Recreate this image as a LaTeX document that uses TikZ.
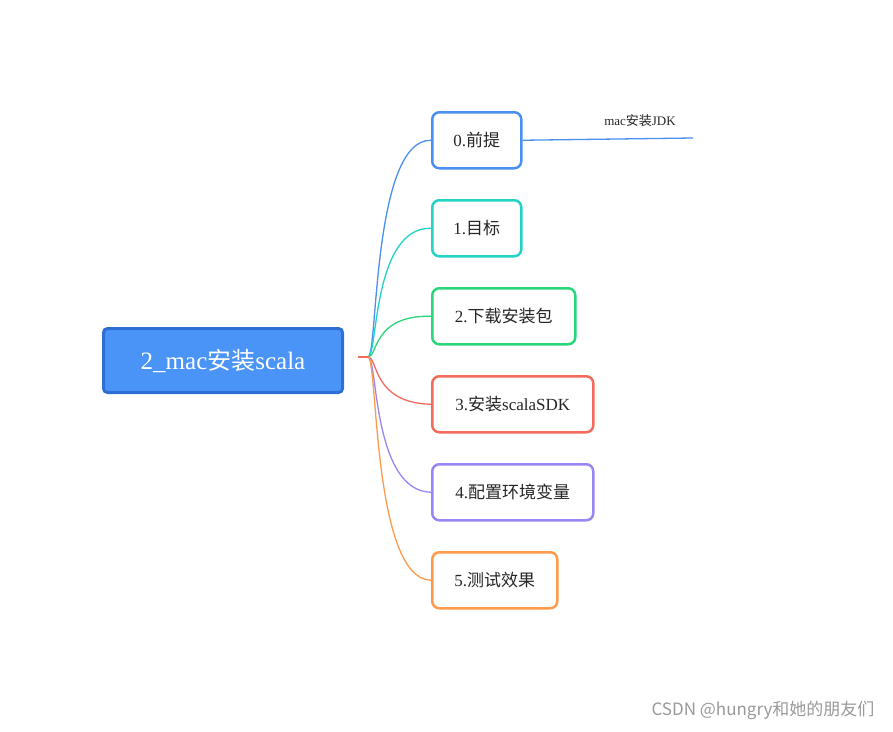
\documentclass[tikz,border=0pt]{standalone}
\usepackage{fontspec}
\setmainfont{Liberation Serif}
\newfontfamily\cjk{Noto Sans CJK SC}
\newfontfamily\wm{Noto Sans CJK SC}
\definecolor{cblue}{HTML}{4A90F0}
\definecolor{cteal}{HTML}{22D3C5}
\definecolor{cgreen}{HTML}{2BD67B}
\definecolor{cred}{HTML}{F26B5B}
\definecolor{cpurple}{HTML}{9B85F5}
\definecolor{corange}{HTML}{FF9A4A}
\definecolor{rootfill}{HTML}{4A94F8}
\definecolor{rootdraw}{HTML}{2E6FD6}
\begin{document}
\begin{tikzpicture}[x=1pt,y=-1pt,
  child/.style={draw=#1,line width=2.5pt,rounded corners=7pt,fill=white,anchor=north west,inner sep=0pt,font=\fontsize{17}{20}\selectfont,text=black!85},
  link/.style={draw=#1,line width=1.3pt}]
\useasboundingbox (0,0) rectangle (893,731);
\node[draw=rootdraw,fill=rootfill,line width=3pt,rounded corners=4pt,minimum width=239pt,minimum height=64pt,anchor=north west,text=white,font=\fontsize{25}{28}\selectfont] (root) at (102,327) {2\_mac{\cjk\fontsize{24}{28}\selectfont 安装}scala};
\coordinate (hub) at (368,357);
\coordinate (stub) at (358,357);
\draw[link=cred] (stub) -- (hub);
\foreach \n/\y/\w/\c/\t in {c0/111/89/cblue/0.{\cjk 前提},c1/199/89/cteal/1.{\cjk 目标},c2/287/143/cgreen/2.{\cjk 下载安装包},c3/375/161/cred/3.{\cjk 安装}scalaSDK,c4/463/161/cpurple/4.{\cjk 配置环境变量},c5/551/125/corange/5.{\cjk 测试效果}}{
  \node[child=\c,minimum width=\w pt,minimum height=56pt] (\n) at (431,\y) {\t};
  \draw[link=\c] (hub) .. controls (378,357) and (372,\y+28) .. (\n.west);
}
\coordinate (jdkend) at (693,138);
\draw[link=cblue] (c0.east) -- (jdkend);
\node[font=\fontsize{13}{15}\selectfont,text=black!85] (jdk) at (640,121) {mac{\cjk 安装}JDK};
\node[font=\wm\fontsize{17}{20}\selectfont,text=black!40] (wm) at (763,710) {CSDN @hungry和她的朋友们};
\end{tikzpicture}
\end{document}
